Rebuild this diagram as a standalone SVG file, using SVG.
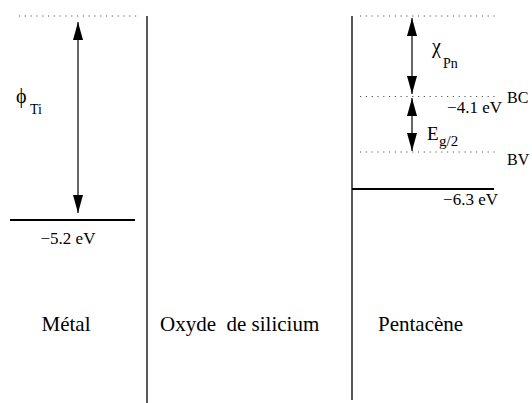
<svg xmlns="http://www.w3.org/2000/svg" width="532" height="403" viewBox="0 0 532 403">
<defs>
<marker id="ah" markerUnits="userSpaceOnUse" markerWidth="18" markerHeight="10" refX="18" refY="5" orient="auto-start-reverse">
<path d="M0,0 L18,5 L0,10 z" fill="#000"/>
</marker>
<style>
text{font-family:'Liberation Serif','DejaVu Serif',serif;fill:#000}
.dot{stroke:#555;stroke-width:1;stroke-dasharray:1.2,4.6;fill:none}
.v{stroke:#000;stroke-width:1.3}
.lvl{stroke:#000;stroke-width:2}
.arr{stroke:#000;stroke-width:1.2;marker-start:url(#ah);marker-end:url(#ah)}
</style>
</defs>
<rect width="532" height="403" fill="#fff"/>
<g id="metal">
<line class="dot" x1="19" y1="16" x2="138" y2="16"/>
<line class="lvl" x1="10" y1="220" x2="135" y2="220"/>
<text x="68" y="244" font-size="17" text-anchor="middle">−5.2 eV</text>
<text x="16" y="103" font-size="20">ϕ</text>
<text x="30" y="114" font-size="14">Ti</text>
<text x="66" y="331" font-size="21" text-anchor="middle">Métal</text>
</g>
<g id="oxyde">
<line class="v" x1="147" y1="16" x2="147" y2="403"/>
<line class="v" x1="352" y1="16" x2="352" y2="400"/>
<text x="160" y="331" font-size="21" xml:space="preserve">Oxyde  de silicium</text>
</g>
<g id="pentacene">
<line class="dot" x1="360" y1="16" x2="495" y2="16"/>
<line class="dot" x1="360" y1="96.5" x2="497" y2="96.5"/>
<line class="dot" x1="360" y1="152" x2="497" y2="152"/>
<line class="lvl" x1="352" y1="189" x2="494" y2="189"/>
<text x="507" y="103" font-size="16">BC</text>
<text x="507" y="165" font-size="16">BV</text>
<text x="502" y="113" font-size="17" text-anchor="end">−4.1 eV</text>
<text x="498" y="205" font-size="17" text-anchor="end">−6.3 eV</text>
<text x="432" y="53" font-size="20">χ</text>
<text x="443" y="68" font-size="14">Pn</text>
<text x="427" y="140" font-size="19">E</text>
<text x="439" y="146" font-size="15">g/2</text>
<text x="378" y="331" font-size="21">Pentacène</text>
</g>
<g id="connectors">
<line class="arr" x1="78" y1="22" x2="78" y2="213"/>
<line class="arr" x1="412" y1="18" x2="412" y2="94"/>
<line class="arr" x1="412" y1="98" x2="412" y2="151"/>
</g>
</svg>
